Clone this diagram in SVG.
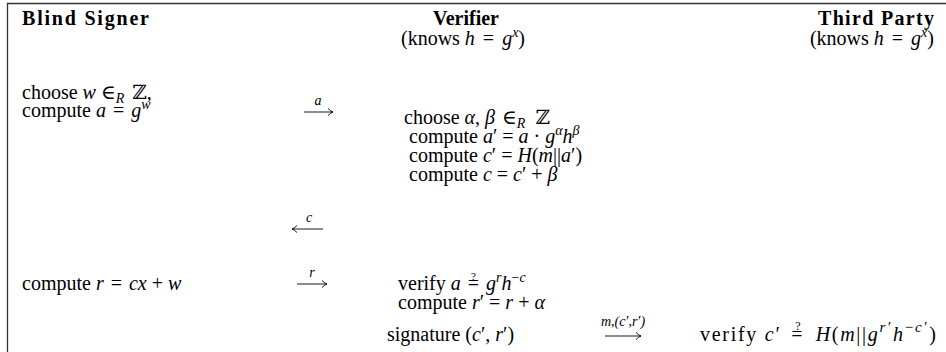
<svg xmlns="http://www.w3.org/2000/svg" width="946" height="352" viewBox="0 0 946 352">
<style>
.t{font-family:"Liberation Serif","DejaVu Serif",serif;font-size:20px;fill:#000}
.h{font-weight:bold}
.i{font-style:italic}
.s{font-size:14px}
.q{font-size:11px}
.ln{stroke:#000;stroke-width:0.9;fill:none}
.fr{stroke:#333;stroke-width:1.3;fill:none}
</style>
<defs>
<marker id="ah" markerUnits="userSpaceOnUse" markerWidth="10" markerHeight="10" refX="0" refY="0" viewBox="-6 -5 7 10" orient="auto">
<path d="M-5,-3.5 Q-2,-0.6 0,0 Q-2,0.6 -5,3.5" stroke="#000" stroke-width="0.9" fill="none"/>
</marker>
</defs>
<rect width="946" height="352" fill="#fff"/>
<path class="fr" d="M7.5,352 V3.5 H946"/>

<g id="signer">
<text class="t h" x="22" y="25" textLength="127" lengthAdjust="spacing">Blind Signer</text>
<text class="t" x="22" y="99">choose <tspan class="i">w</tspan> ∈<tspan class="i s" dy="4">R</tspan><tspan dy="-4" dx="3"> ℤ,</tspan></text>
<text class="t" x="22" y="117">compute <tspan class="i">a</tspan><tspan dx="2"> = </tspan><tspan class="i" dx="2">g</tspan><tspan class="i s" dy="-8">w</tspan></text>
<text class="t" x="22" y="290">compute <tspan class="i">r</tspan><tspan dx="2"> = </tspan><tspan class="i" dx="2">cx</tspan> + <tspan class="i">w</tspan></text>
</g>

<g id="verifier">
<text class="t h" x="466" y="25" text-anchor="middle">Verifier</text>
<text class="t" x="463" y="45" text-anchor="middle">(knows <tspan class="i">h</tspan><tspan dx="3"> = </tspan><tspan class="i" dx="3">g</tspan><tspan class="i s" dy="-8">x</tspan><tspan dy="8">)</tspan></text>
<text class="t" x="404" y="124">choose <tspan class="i">α</tspan>, <tspan class="i">β</tspan><tspan dx="2"> ∈</tspan><tspan class="i s" dy="4">R</tspan><tspan dy="-4" dx="5"> ℤ</tspan></text>
<text class="t" x="409" y="143">compute <tspan class="i">a</tspan>′ = <tspan class="i">a</tspan> · <tspan class="i">g</tspan><tspan class="i s" dy="-8">α</tspan><tspan class="i" dy="8">h</tspan><tspan class="i s" dy="-8">β</tspan></text>
<text class="t" x="409" y="162">compute <tspan class="i">c</tspan>′ = <tspan class="i">H</tspan>(<tspan class="i">m</tspan>||<tspan class="i">a</tspan>′)</text>
<text class="t" x="409" y="181">compute <tspan class="i">c</tspan> = <tspan class="i">c</tspan>′ + <tspan class="i">β</tspan></text>
<text class="t" x="398" y="290">verify <tspan class="i">a</tspan><tspan dx="2"> =</tspan><tspan class="q" dx="-8.1" dy="-10">?</tspan><tspan dx="3.2" dy="10"> </tspan><tspan class="i" dx="2">g</tspan><tspan class="i s" dy="-8">r</tspan><tspan class="i" dy="8">h</tspan><tspan class="s" dy="-8">−</tspan><tspan class="i s">c</tspan></text>
<text class="t" x="398" y="309">compute <tspan class="i">r</tspan>′ = <tspan class="i">r</tspan> + <tspan class="i">α</tspan></text>
<text class="t" x="387" y="341">signature (<tspan class="i">c</tspan>′, <tspan class="i">r</tspan>′)</text>
</g>

<g id="third-party">
<text class="t h" x="934" y="25" text-anchor="end" textLength="116" lengthAdjust="spacing">Third Party</text>
<text class="t" x="934" y="45" text-anchor="end">(knows <tspan class="i">h</tspan><tspan dx="3"> = </tspan><tspan class="i" dx="3">g</tspan><tspan class="i s" dy="-8">x</tspan><tspan dy="8">)</tspan></text>
<text class="t" x="700" y="341" font-size="22" textLength="236" lengthAdjust="spacing">verify <tspan class="i">c</tspan>′<tspan dx="3"> =</tspan><tspan font-size="12" dx="-8.9" dy="-11">?</tspan><tspan dx="3.6" dy="11"> </tspan><tspan class="i" dx="3">H</tspan>(<tspan class="i">m</tspan>||<tspan class="i">g</tspan><tspan class="i" font-size="15" dy="-9">r′</tspan><tspan class="i" dy="9" dx="1">h</tspan><tspan font-size="15" dy="-9">−</tspan><tspan class="i" font-size="15">c′</tspan><tspan dy="9" dx="1">)</tspan></text>
</g>

<g id="connectors">
<path class="ln" d="M304,112 H333" marker-end="url(#ah)"/>
<text class="t i s" x="318" y="105" text-anchor="middle">a</text>
<path class="ln" d="M323,229 H292" marker-end="url(#ah)"/>
<text class="t i s" x="309" y="222" text-anchor="middle">c</text>
<path class="ln" d="M297,284 H327" marker-end="url(#ah)"/>
<text class="t i s" x="312" y="277" text-anchor="middle">r</text>
<path class="ln" d="M605,336 H641" marker-end="url(#ah)"/>
<text class="t i s" x="623" y="326" text-anchor="middle">m,(c′,r′)</text>
</g>
</svg>
